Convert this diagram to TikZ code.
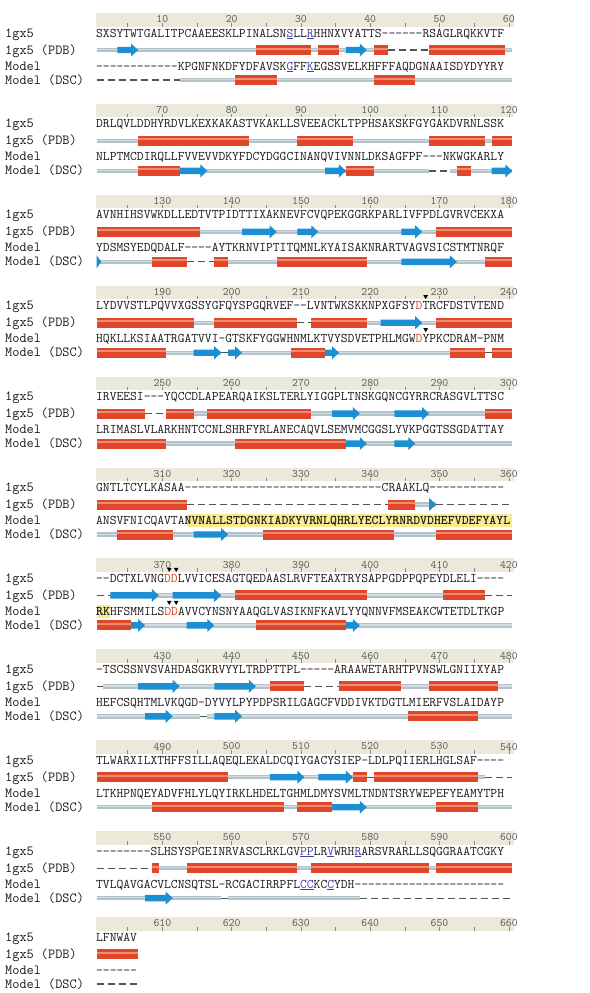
\documentclass[tikz,border=0pt]{standalone}
\usetikzlibrary{positioning}

\definecolor{rulerbg}{HTML}{EDE9DA}
\definecolor{numgray}{HTML}{555555}
\definecolor{tickgray}{HTML}{8A8A8A}
\definecolor{textgray}{HTML}{1A1A1A}
\definecolor{helixred}{HTML}{E0462A}
\definecolor{helixlight}{HTML}{EF8A73}
\definecolor{strandblue}{HTML}{1C8ED4}
\definecolor{coilgray}{HTML}{B3C2C8}
\definecolor{coillight}{HTML}{D3DCE0}
\definecolor{gapgray}{HTML}{4E5457}
\definecolor{sitered}{HTML}{E0452B}
\definecolor{siteblue}{HTML}{3E3EA8}
\definecolor{hilite}{HTML}{F8EB91}

% residue boundary -> x
\newcommand{\rx}[1]{96.5+6.93*(#1)}
% structure pieces: row, from, to (residue boundaries)
\newcommand{\coil}[3]{\fill[coilgray] ({\rx{#2}},#1-2.2) rectangle ({\rx{#3}},#1+2.2);
  \fill[coillight] ({\rx{#2}},#1-1) rectangle ({\rx{#3}},#1+0.2);}
\newcommand{\helix}[3]{\fill[helixred] ({\rx{#2}},#1-5) rectangle ({\rx{#3}},#1+5);
  \fill[helixlight] ({\rx{#2}},#1-2.5) rectangle ({\rx{#3}},#1-0.5);}
\newcommand{\strand}[3]{\pgfmathsetmacro\hl{min(7,6.93*(#3-#2))}
  \fill[strandblue] ({\rx{#2}},#1-3.2) -- ({\rx{#3}-\hl},#1-3.2) -- ({\rx{#3}-\hl},#1-6.5)
  -- ({\rx{#3}},#1) -- ({\rx{#3}-\hl},#1+6.5) -- ({\rx{#3}-\hl},#1+3.2) -- ({\rx{#2}},#1+3.2) -- cycle;}
\newcommand{\gapd}[3]{\draw[gapgray, line width = 1.2pt, dash pattern = on 7pt off 4pt]
  ({\rx{#2}},#1) -- ({\rx{#3}},#1);}
% marked residues
\newcommand{\sitetri}[2]{\fill[black] ({\rx{#2-0.5}-2.3},#1-10.5) -- ({\rx{#2-0.5}+2.3},#1-10.5)
  -- ({\rx{#2-0.5}},#1-6.5) -- cycle;}
\newcommand{\site}[1]{\textcolor{siteblue}{\underline{#1}}}
\newcommand{\act}[1]{\textcolor{sitered}{#1}}
% ruler band, numbers and row labels of block #1
\newcommand{\rulerrow}[1]{
  \fill[rulerbg] (95.5,0) rectangle (513.5,13.5);
  \foreach \tk in {5,10,...,60} {\draw[tickgray, line width = 0.6pt] ({\rx{\tk-0.5}},10) -- ({\rx{\tk-0.5}},13.5);}
  \foreach \j in {1,...,6} {\pgfmathtruncatemacro\rnum{60*#1+10*\j}
    \node[rulenum] (num#1-\j) at ({\rx{10*\j-0.5}},6.3) {\rnum};}
  \node[lbl] (lbl#1-a) at (5,24) {1gx5};
  \node[lbl] (lbl#1-b) at (5,41) {1gx5 (PDB)};
  \node[lbl] (lbl#1-c) at (5,57) {Model};
  \node[lbl] (lbl#1-d) at (5,71) {Model (DSC)};
}

\begin{document}
\begin{tikzpicture}[x = 1pt, y = -1pt, % one unit per pixel, y runs down
                    line cap = butt % flat dash ends
                   ]

  \tikzstyle{seq}=[anchor = base west, inner sep = 0pt, text = textgray,
  font = \ttfamily\fontsize{13.2}{13.2}\selectfont]
  \tikzstyle{lbl}=[anchor = base west, inner sep = 0pt, text = textgray,
  font = \ttfamily\fontsize{13.9}{13.9}\selectfont]
  \tikzstyle{rulenum}=[inner sep = 0pt, text = numgray,
  font = \ttfamily\fontsize{11.4}{11.4}\selectfont]

  \path[use as bounding box, fill = white] (0,0) rectangle (589,993);

  \begin{scope}[yshift = -13pt] % 1-60
    \rulerrow{0}
    \node[seq] (a0) at (96,24) {SXSYTWTGALITPCAAEESKLPINALSN\site{S}LL\site{R}HHNXVYATTS------RSAGLRQKKVTF};
    \coil{37}{0}{42} \gapd{37}{42}{48} \coil{37}{48}{60}
    \strand{37}{3}{6} \helix{37}{23}{31} \helix{37}{32}{35} \strand{37}{36}{39}
    \helix{37}{40}{42} \helix{37}{48}{59}
    \node[seq] (b0) at (96,57) {------------KPGNFNKDFYDFAVSK\site{G}FF\site{K}EGSSVELKHFFFAQDGNAAISDYDYYRY};
    \gapd{67}{0}{12} \coil{67}{12}{60}
    \helix{67}{20}{26} \helix{67}{40}{46}
  \end{scope}

  \begin{scope}[yshift = -103.9pt] % 61-120
    \rulerrow{1}
    \node[seq] (a1) at (96,24) {DRLQVLDDHYRDVLKEXKAKASTVKAKLLSVEEACKLTPPHSAKSKFGYGAKDVRNLSSK};
    \coil{37}{0}{60}
    \helix{37}{6}{22} \helix{37}{29}{37} \helix{37}{48}{56} \helix{37}{57}{60}
    \node[seq] (b1) at (96,57) {NLPTMCDIRQLLFVVEVVDKYFDCYDGGCINANQVIVNNLDKSAGFPF---NKWGKARLY};
    \coil{67}{0}{48} \gapd{67}{48}{51} \coil{67}{51}{60}
    \helix{67}{6}{12} \strand{67}{12}{16} \strand{67}{33}{36} \helix{67}{36}{40}
    \helix{67}{52}{54} \strand{67}{57}{60}
  \end{scope}

  \begin{scope}[yshift = -194.8pt] % 121-180
    \rulerrow{2}
    \node[seq] (a2) at (96,24) {AVNHIHSVWKDLLEDTVTPIDTTIXAKNEVFCVQPEKGGRKPARLIVFPDLGVRVCEKXA};
    \coil{37}{0}{60}
    \helix{37}{0}{15} \strand{37}{21}{26} \strand{37}{29}{32} \strand{37}{44}{47}
    \helix{37}{49}{60}
    \node[seq] (b2) at (96,57) {YDSMSYEDQDALF----AYTKRNVIPTITQMNLKYAISAKNRARTVAGVSICSTMTNRQF};
    \coil{67}{0}{13} \gapd{67}{13}{17} \coil{67}{17}{60}
    \strand{67}{0}{0.7} \helix{67}{8}{13} \helix{67}{17}{19} \helix{67}{26}{39}
    \strand{67}{44}{52} \helix{67}{56}{60}
  \end{scope}

  \begin{scope}[yshift = -285.7pt] % 181-240
    \rulerrow{3}
    \node[seq] (a3) at (96,24) {LYDVVSTLPQVVXGSSYGFQYSPGQRVEF--LVNTWKSKKNPXGFSY\act{D}TRCFDSTVTEND};
    \coil{37}{0}{29} \gapd{37}{29}{31} \coil{37}{31}{60}
    \helix{37}{0}{14} \helix{37}{17}{29} \helix{37}{31}{39} \strand{37}{41}{47}
    \helix{37}{49}{60}
    \node[seq] (b3) at (96,57) {HQKLLKSIAATRGATVVI-GTSKFYGGWHNMLKTVYSDVETPHLMGW\act{D}YPKCDRAM-PNM};
    \coil{67}{0}{18} \gapd{67}{18}{19} \coil{67}{19}{56} \gapd{67}{56}{57} \coil{67}{57}{60}
    \helix{67}{0}{10} \strand{67}{14}{18} \strand{67}{19}{21} \helix{67}{28}{33}
    \strand{67}{33}{35} \helix{67}{51}{56} \helix{67}{57}{60}
    \sitetri{20}{48} \sitetri{53}{48}
  \end{scope}

  \begin{scope}[yshift = -376.6pt] % 241-300
    \rulerrow{4}
    \node[seq] (a4) at (96,24) {IRVEESI---YQCCDLAPEARQAIKSLTERLYIGGPLTNSKGQNCGYRRCRASGVLTTSC};
    \coil{37}{0}{7} \gapd{37}{7}{10} \coil{37}{10}{60}
    \helix{37}{0}{7} \helix{37}{10}{14} \helix{37}{16}{31} \strand{37}{34}{38}
    \strand{37}{43}{48} \helix{37}{56}{60}
    \node[seq] (b4) at (96,57) {LRIMASLVLARKHNTCCNLSHRFYRLANECAQVLSEMVMCGGSLYVKPGGTSSGDATTAY};
    \coil{67}{0}{60}
    \helix{67}{0}{10} \helix{67}{20}{36} \strand{67}{36}{39} \strand{67}{43}{46}
  \end{scope}

  \begin{scope}[yshift = -467.5pt] % 301-360
    \rulerrow{5}
    \node[seq] (a5) at (96,24) {GNTLTCYLKASAA-----------------------------CRAAKLQ-----------};
    \coil{37}{0}{13} \gapd{37}{13}{42} \coil{37}{42}{49} \gapd{37}{49}{60}
    \helix{37}{0}{13} \helix{37}{42}{46} \strand{37}{48}{49}
    \fill[hilite] ({\rx{13}},46.5) rectangle ({\rx{60}},59.5);
    \node[seq] (b5) at (96,57) {ANSVFNICQAVTA\textbf{NVNALLSTDGNKIADKYVRNLQHRLYECLYRNRDVDHEFVDEFYAYL}};
    \coil{67}{0}{60}
    \helix{67}{3}{11} \strand{67}{14}{19} \helix{67}{24}{43} \helix{67}{49}{60}
  \end{scope}

  \begin{scope}[yshift = -558.4pt] % 361-420
    \rulerrow{6}
    \node[seq] (a6) at (96,24) {--DCTXLVNG\act{DD}LVVICESAGTQEDAASLRVFTEAXTRYSAPPGDPPQPEYDLELI----};
    \gapd{37}{0}{2} \coil{37}{2}{56} \gapd{37}{56}{60}
    \strand{37}{2}{9} \strand{37}{11}{18} \helix{37}{20}{39} \helix{37}{50}{56}
    \fill[hilite] ({\rx{0}},46.5) rectangle ({\rx{2}},59.5);
    \node[seq] (b6) at (96,57) {\textbf{RK}HFSMMILS\act{DD}AVVCYNSNYAAQGLVASIKNFKAVLYYQNNVFMSEAKCWTETDLTKGP};
    \coil{67}{0}{60}
    \helix{67}{0}{5} \strand{67}{5}{7} \strand{67}{13}{17} \helix{67}{23}{36}
    \strand{67}{36}{38}
    \sitetri{20}{11} \sitetri{20}{12} \sitetri{53}{11} \sitetri{53}{12}
  \end{scope}

  \begin{scope}[yshift = -649.3pt] % 421-480
    \rulerrow{7}
    \node[seq] (a7) at (96,24) {-TSCSSNVSVAHDASGKRVYYLTRDPTTPL-----ARAAWETARHTPVNSWLGNIIXYAP};
    \gapd{37}{0}{1} \coil{37}{1}{30} \gapd{37}{30}{35} \coil{37}{35}{60}
    \strand{37}{6}{12} \strand{37}{17}{23} \helix{37}{25}{30} \helix{37}{35}{44}
    \helix{37}{48}{58}
    \node[seq] (b7) at (96,57) {HEFCSQHTMLVKQGD-DYVYLPYPDPSRILGAGCFVDDIVKTDGTLMIERFVSLAIDAYP};
    \coil{67}{0}{15} \gapd{67}{15}{16} \coil{67}{16}{60}
    \strand{67}{7}{11} \strand{67}{17}{21} \helix{67}{45}{55}
  \end{scope}

  \begin{scope}[yshift = -740.2pt] % 481-540
    \rulerrow{8}
    \node[seq] (a8) at (96,24) {TLWARXILXTHFFSILLAQEQLEKALDCQIYGACYSIEP-LDLPQIIERLHGLSAF----};
    \coil{37}{0}{39} \gapd{37}{39}{40} \coil{37}{40}{56} \gapd{37}{56}{60}
    \helix{37}{0}{19} \strand{37}{25}{30} \strand{37}{32}{37} \helix{37}{37}{39}
    \helix{37}{40}{55}
    \node[seq] (b8) at (96,57) {LTKHPNQEYADVFHLYLQYIRKLHDELTGHMLDMYSVMLTNDNTSRYWEPEFYEAMYTPH};
    \coil{67}{0}{60}
    \helix{67}{8}{27} \helix{67}{29}{34} \strand{67}{34}{39} \helix{67}{49}{55}
  \end{scope}

  \begin{scope}[yshift = -831.1pt] % 541-600
    \rulerrow{9}
    \node[seq] (a9) at (96,24) {--------SLHSYSPGEINRVASCLRKLGV\site{PP}LR\site{V}WRH\site{R}ARSVRARLLSQGGRAATCGKY};
    \gapd{37}{0}{8} \coil{37}{8}{60}
    \helix{37}{8}{9} \helix{37}{13}{29} \helix{37}{31}{48} \helix{37}{49}{60}
    \node[seq] (b9) at (96,57) {TVLQAVGACVLCNSQTSL-RCGACIRRPFL\site{CC}KC\site{C}YDH----------------------};
    \coil{67}{0}{18} \gapd{67}{18}{19} \coil{67}{19}{38} \gapd{67}{38}{60}
    \strand{67}{7}{11}
  \end{scope}

  \begin{scope}[yshift = -917pt] % 601-660
    \rulerrow{10}
    \node[seq] (a10) at (96,24) {LFNWAV};
    \helix{37}{0}{6}
    \node[seq] (b10) at (96,57) {------};
    \gapd{67}{0}{6}
  \end{scope}

\end{tikzpicture}
\end{document}
